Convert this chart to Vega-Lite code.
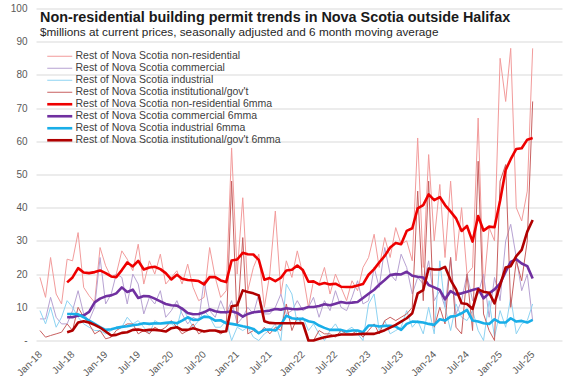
{
"$schema": "https://vega.github.io/schema/vega-lite/v6.json",
"width": 526, "height": 332,
"autosize": {"type": "none"},
"padding": {"left": 36, "top": 8.5, "right": 15, "bottom": 44.5},
"background": "white",
"config": {"view": {"stroke": null}, "font": "Liberation Sans"},
"title": {"text": "Non-residential building permit trends in Nova Scotia outside Halifax", "subtitle": "$millions at current prices, seasonally adjusted and 6 month moving average", "anchor": "start", "frame": "group", "orient": "top", "font": "Liberation Sans", "fontSize": 14.4, "fontWeight": "bold", "color": "#1a1a1a", "subtitleFont": "Liberation Sans", "subtitleFontSize": 11.75, "subtitleColor": "#262626", "subtitlePadding": 1, "offset": -36, "dx": 4},
"data": {"values": [
{"d":"2018-01","nr":19,"com":6.5,"ind":9,"inst":3},
{"d":"2018-02","nr":13,"com":6.5,"ind":5,"inst":1},
{"d":"2018-03","nr":25,"com":13,"ind":10,"inst":1.5},
{"d":"2018-04","nr":14,"com":7,"ind":4,"inst":2},
{"d":"2018-05","nr":11,"com":5,"ind":7,"inst":2.5},
{"d":"2018-06","nr":24.5,"com":5,"ind":12,"inst":5,"nr6":17.5,"com6":7.0,"ind6":8.0,"inst6":2.5},
{"d":"2018-07","nr":24,"com":9,"ind":10,"inst":3,"nr6":19,"com6":7.0,"ind6":8.0,"inst6":3.0},
{"d":"2018-08","nr":32.5,"com":15,"ind":7,"inst":10,"nr6":21.8,"com6":7.5,"ind6":7.9,"inst6":5.4},
{"d":"2018-09","nr":16,"com":8,"ind":5,"inst":7,"nr6":20.5,"com6":7.6,"ind6":7.0,"inst6":5.8},
{"d":"2018-10","nr":13.5,"com":6,"ind":4,"inst":5,"nr6":20.3,"com6":8.6,"ind6":6.0,"inst6":5.4},
{"d":"2018-11","nr":11.5,"com":10,"ind":3,"inst":2,"nr6":20.6,"com6":11.5,"ind6":5.0,"inst6":4.7},
{"d":"2018-12","nr":28,"com":25,"ind":3,"inst":3,"nr6":21.1,"com6":12.6,"ind6":4.0,"inst6":3.9},
{"d":"2019-01","nr":22.5,"com":11,"ind":2,"inst":0.5,"nr6":20.3,"com6":13.3,"ind6":3.2,"inst6":2.7},
{"d":"2019-02","nr":19,"com":14,"ind":3,"inst":1,"nr6":19.3,"com6":13.6,"ind6":3.4,"inst6":1.5},
{"d":"2019-03","nr":20,"com":20,"ind":4,"inst":3,"nr6":19.1,"com6":14.2,"ind6":3.8,"inst6":1.7},
{"d":"2019-04","nr":27,"com":19,"ind":4,"inst":4,"nr6":21.2,"com6":16.0,"ind6":4.1,"inst6":2.3},
{"d":"2019-05","nr":24.5,"com":11,"ind":7,"inst":5,"nr6":23.5,"com6":14.6,"ind6":4.3,"inst6":2.5},
{"d":"2019-06","nr":21,"com":20,"ind":5,"inst":5,"nr6":22.3,"com6":15.3,"ind6":4.6,"inst6":3.2},
{"d":"2019-07","nr":29,"com":17,"ind":6,"inst":2,"nr6":24.0,"com6":12.8,"ind6":4.8,"inst6":3.3},
{"d":"2019-08","nr":17,"com":8,"ind":4,"inst":3,"nr6":21.4,"com6":13.4,"ind6":5.2,"inst6":3.0},
{"d":"2019-09","nr":24,"com":13,"ind":2,"inst":2,"nr6":22.0,"com6":13.3,"ind6":5.0,"inst6":3.2},
{"d":"2019-10","nr":20,"com":11,"ind":6,"inst":4,"nr6":22.2,"com6":12.6,"ind6":5.2,"inst6":3.2},
{"d":"2019-11","nr":26,"com":15,"ind":5,"inst":3,"nr6":21.5,"com6":11.8,"ind6":5.1,"inst6":3.0},
{"d":"2019-12","nr":17,"com":7,"ind":5,"inst":4,"nr6":20.3,"com6":11.0,"ind6":5.3,"inst6":2.7},
{"d":"2020-01","nr":19,"com":9,"ind":5,"inst":6,"nr6":18.4,"com6":10.6,"ind6":5.5,"inst6":3.7},
{"d":"2020-02","nr":21,"com":12,"ind":4,"inst":4,"nr6":19.8,"com6":10.5,"ind6":5.2,"inst6":4.0},
{"d":"2020-03","nr":17,"com":8,"ind":10,"inst":2,"nr6":18.6,"com6":9.6,"ind6":6.0,"inst6":3.2},
{"d":"2020-04","nr":23,"com":5,"ind":7,"inst":3,"nr6":18.2,"com6":8.3,"ind6":7.0,"inst6":3.2},
{"d":"2020-05","nr":16,"com":7,"ind":4,"inst":5,"nr6":18.1,"com6":7.9,"ind6":6.2,"inst6":3.7},
{"d":"2020-06","nr":12,"com":6,"ind":6,"inst":2,"nr6":17.9,"com6":8.0,"ind6":6.3,"inst6":3.2},
{"d":"2020-07","nr":13,"com":18,"ind":9,"inst":3,"nr6":16.9,"com6":8.5,"ind6":7.2,"inst6":2.7},
{"d":"2020-08","nr":28,"com":9,"ind":7,"inst":3,"nr6":19.1,"com6":9.4,"ind6":7.0,"inst6":3.0},
{"d":"2020-09","nr":19,"com":7,"ind":4,"inst":3,"nr6":19.1,"com6":8.8,"ind6":6.0,"inst6":3.0},
{"d":"2020-10","nr":13,"com":12,"ind":4,"inst":2,"nr6":18.1,"com6":8.5,"ind6":6.1,"inst6":2.6},
{"d":"2020-11","nr":15,"com":8,"ind":6,"inst":3,"nr6":17.6,"com6":8.5,"ind6":5.2,"inst6":2.8},
{"d":"2020-12","nr":58,"com":12,"ind":0,"inst":48,"nr6":24.1,"com6":8.8,"ind6":5.0,"inst6":10.3},
{"d":"2021-01","nr":20,"com":5,"ind":4,"inst":5,"nr6":24.4,"com6":8.3,"ind6":4.7,"inst6":10.6},
{"d":"2021-02","nr":43,"com":7,"ind":3,"inst":31,"nr6":26.4,"com6":7.2,"ind6":4.3,"inst6":15.1},
{"d":"2021-03","nr":15,"com":10,"ind":4,"inst":2,"nr6":26.0,"com6":8.0,"ind6":4.0,"inst6":14.6},
{"d":"2021-04","nr":22,"com":8,"ind":1,"inst":3,"nr6":25.9,"com6":8.5,"ind6":3.5,"inst6":14.2},
{"d":"2021-05","nr":26,"com":14,"ind":0,"inst":2,"nr6":24.3,"com6":8.7,"ind6":2.2,"inst6":13.6},
{"d":"2021-06","nr":10,"com":8,"ind":2,"inst":4,"nr6":18.3,"com6":8.8,"ind6":3.2,"inst6":5.8},
{"d":"2021-07","nr":20,"com":8,"ind":3,"inst":2,"nr6":18.8,"com6":9.0,"ind6":3.3,"inst6":5.3},
{"d":"2021-08","nr":39,"com":10,"ind":5,"inst":4,"nr6":17.9,"com6":9.5,"ind6":3.0,"inst6":5.2},
{"d":"2021-09","nr":14,"com":14,"ind":0,"inst":3,"nr6":18.9,"com6":9.3,"ind6":4.8,"inst6":5.2},
{"d":"2021-10","nr":24,"com":8,"ind":17,"inst":11,"nr6":21.1,"com6":9.7,"ind6":7.5,"inst6":5.2},
{"d":"2021-11","nr":19,"com":9,"ind":14,"inst":3,"nr6":21.3,"com6":9.5,"ind6":6.7,"inst6":5.2},
{"d":"2021-12","nr":27,"com":12,"ind":5,"inst":7,"nr6":22.6,"com6":9.4,"ind6":6.5,"inst6":5.2},
{"d":"2022-01","nr":20,"com":9,"ind":7,"inst":5,"nr6":21.2,"com6":9.6,"ind6":6.5,"inst6":5.2},
{"d":"2022-02","nr":10,"com":10,"ind":3,"inst":0,"nr6":17.7,"com6":10.1,"ind6":5.8,"inst6":0.0},
{"d":"2022-03","nr":18,"com":13,"ind":5,"inst":0,"nr6":17.8,"com6":10.1,"ind6":5.5,"inst6":0.0},
{"d":"2022-04","nr":17,"com":7,"ind":2,"inst":3,"nr6":16.9,"com6":10.4,"ind6":4.5,"inst6":0.5},
{"d":"2022-05","nr":22,"com":12,"ind":0,"inst":2,"nr6":17.3,"com6":10.9,"ind6":3.8,"inst6":1.0},
{"d":"2022-06","nr":14,"com":9,"ind":3,"inst":2,"nr6":16.9,"com6":10.6,"ind6":3.2,"inst6":1.3},
{"d":"2022-07","nr":20,"com":15,"ind":5,"inst":1,"nr6":17.1,"com6":11.1,"ind6":3.2,"inst6":1.5},
{"d":"2022-08","nr":16,"com":10,"ind":2,"inst":3,"nr6":16.2,"com6":11.6,"ind6":3.2,"inst6":1.8},
{"d":"2022-09","nr":12,"com":9,"ind":3,"inst":2,"nr6":16.1,"com6":11.3,"ind6":2.7,"inst6":1.8},
{"d":"2022-10","nr":18,"com":13,"ind":4,"inst":2,"nr6":16.1,"com6":11.4,"ind6":3.0,"inst6":1.8},
{"d":"2022-11","nr":15,"com":18,"ind":2,"inst":3,"nr6":16.6,"com6":11.6,"ind6":3.0,"inst6":1.9},
{"d":"2022-12","nr":22,"com":11,"ind":0,"inst":1,"nr6":17.0,"com6":12.8,"ind6":2.5,"inst6":2.0},
{"d":"2023-01","nr":25,"com":12,"ind":11,"inst":3,"nr6":19.8,"com6":14.1,"ind6":4.5,"inst6":2.0},
{"d":"2023-02","nr":32,"com":22,"ind":14,"inst":5,"nr6":21.5,"com6":15.3,"ind6":4.5,"inst6":2.0},
{"d":"2023-03","nr":22,"com":16,"ind":3,"inst":2,"nr6":23.5,"com6":16.8,"ind6":4.2,"inst6":2.5},
{"d":"2023-04","nr":31,"com":28,"ind":6,"inst":6,"nr6":25.5,"com6":18.2,"ind6":4.4,"inst6":3.1},
{"d":"2023-05","nr":25,"com":20,"ind":2,"inst":7,"nr6":28.0,"com6":19.7,"ind6":4.4,"inst6":3.9},
{"d":"2023-06","nr":34,"com":18,"ind":3,"inst":6,"nr6":29.4,"com6":20.0,"ind6":4.2,"inst6":4.7},
{"d":"2023-07","nr":29,"com":26,"ind":4,"inst":7,"nr6":29.0,"com6":19.9,"ind6":3.2,"inst6":5.7},
{"d":"2023-08","nr":30,"com":22,"ind":9,"inst":8,"nr6":33.0,"com6":20.7,"ind6":5.0,"inst6":6.7},
{"d":"2023-09","nr":24,"com":14,"ind":4,"inst":10,"nr6":33.8,"com6":19.5,"ind6":5.7,"inst6":8.2},
{"d":"2023-10","nr":61,"com":19,"ind":6,"inst":45,"nr6":39.8,"com6":19.2,"ind6":5.6,"inst6":14.2},
{"d":"2023-11","nr":22,"com":17,"ind":2,"inst":12,"nr6":40.8,"com6":19.0,"ind6":5.4,"inst6":15.2},
{"d":"2023-12","nr":56,"com":24,"ind":10,"inst":48,"nr6":44.0,"com6":16.7,"ind6":5.0,"inst6":21.7},
{"d":"2024-01","nr":30,"com":12,"ind":2,"inst":4,"nr6":42.3,"com6":16.0,"ind6":4.7,"inst6":21.4},
{"d":"2024-02","nr":47,"com":15,"ind":24,"inst":10,"nr6":43.2,"com6":15.2,"ind6":6.4,"inst6":21.4},
{"d":"2024-03","nr":25,"com":10,"ind":10,"inst":5,"nr6":40.8,"com6":12.4,"ind6":6.0,"inst6":22.2},
{"d":"2024-04","nr":48,"com":25,"ind":3,"inst":25,"nr6":38.8,"com6":14.9,"ind6":7.2,"inst6":18.2},
{"d":"2024-05","nr":24,"com":8,"ind":11,"inst":4,"nr6":36.8,"com6":13.9,"ind6":7.4,"inst6":15.4},
{"d":"2024-06","nr":40,"com":12,"ind":7,"inst":2,"nr6":33.0,"com6":14.2,"ind6":8.2,"inst6":11.2},
{"d":"2024-07","nr":20,"com":20,"ind":6,"inst":20,"nr6":34.5,"com6":14.7,"ind6":9.2,"inst6":11.0},
{"d":"2024-08","nr":22,"com":12,"ind":9,"inst":3,"nr6":29.8,"com6":15.2,"ind6":6.0,"inst6":9.5},
{"d":"2024-09","nr":67,"com":14,"ind":3,"inst":54,"nr6":37.5,"com6":15.7,"ind6":5.7,"inst6":15.4},
{"d":"2024-10","nr":15,"com":20,"ind":0,"inst":8,"nr6":33.1,"com6":12.7,"ind6":5.2,"inst6":14.7},
{"d":"2024-11","nr":34,"com":7,"ind":12,"inst":3,"nr6":34.3,"com6":14.2,"ind6":5.0,"inst6":14.4},
{"d":"2024-12","nr":30,"com":19,"ind":1,"inst":0,"nr6":34.1,"com6":15.4,"ind6":6.4,"inst6":11.2},
{"d":"2025-01","nr":85,"com":12,"ind":9,"inst":48,"nr6":42.1,"com6":17.2,"ind6":5.4,"inst6":16.7},
{"d":"2025-02","nr":72,"com":30,"ind":4,"inst":53,"nr6":51.4,"com6":20.7,"ind6":5.4,"inst6":22.0},
{"d":"2025-03","nr":88,"com":35,"ind":13,"inst":10,"nr6":54.6,"com6":23.7,"ind6":6.7,"inst6":22.4},
{"d":"2025-04","nr":40,"com":25,"ind":2,"inst":24,"nr6":57.7,"com6":24.5,"ind6":5.7,"inst6":25.4},
{"d":"2025-05","nr":36,"com":15,"ind":5,"inst":18,"nr6":57.9,"com6":23.2,"ind6":5.9,"inst6":27.3},
{"d":"2025-06","nr":45,"com":20,"ind":6,"inst":30,"nr6":60.5,"com6":22.4,"ind6":5.4,"inst6":32.8},
{"d":"2025-07","nr":88,"com":6,"ind":11,"inst":72,"nr6":61.0,"com6":18.7,"ind6":6.2,"inst6":36.3}
]},
"transform": [{"fold": ["nr","com","ind","inst","nr6","com6","ind6","inst6"], "as": ["series","value"]}],
"encoding": {
  "x": {"field": "d", "type": "temporal",
    "scale": {"type": "utc", "domain": [{"year": 2017, "month": 12, "date": 10, "utc": true}, {"year": 2025, "month": 12, "date": 11, "utc": true}]},
    "axis": {"title": null, "format": "%b-%y", "labelAngle": -45, "labelAlign": "right", "labelBaseline": "middle", "labelPadding": 12, "ticks": false, "domain": false, "grid": false, "labelFontSize": 10, "labelColor": "#595959", "labelOverlap": false, "labelFlush": false, "labelBound": false,
      "values": [{"year":2018,"month":1,"date":1,"utc":true},{"year":2018,"month":7,"date":1,"utc":true},{"year":2019,"month":1,"date":1,"utc":true},{"year":2019,"month":7,"date":1,"utc":true},{"year":2020,"month":1,"date":1,"utc":true},{"year":2020,"month":7,"date":1,"utc":true},{"year":2021,"month":1,"date":1,"utc":true},{"year":2021,"month":7,"date":1,"utc":true},{"year":2022,"month":1,"date":1,"utc":true},{"year":2022,"month":7,"date":1,"utc":true},{"year":2023,"month":1,"date":1,"utc":true},{"year":2023,"month":7,"date":1,"utc":true},{"year":2024,"month":1,"date":1,"utc":true},{"year":2024,"month":7,"date":1,"utc":true},{"year":2025,"month":1,"date":1,"utc":true},{"year":2025,"month":7,"date":1,"utc":true}]}},
  "y": {"field": "value", "type": "quantitative", "scale": {"domain": [0, 100], "nice": false},
    "axis": {"title": null, "values": [0,10,20,30,40,50,60,70,80,90,100], "grid": true, "gridColor": "#D9D9D9", "domain": false, "ticks": false, "labelPadding": 9, "labelFontSize": 10, "labelColor": "#595959", "labelOverlap": false, "labelFlush": false, "labelBound": false, "labelExpr": "datum.value == 0 ? '-   ' : datum.label"}},
  "color": {"field": "series", "type": "nominal",
    "scale": {"domain": ["nr","com","ind","inst","nr6","com6","ind6","inst6"], "range": ["#F29B9B","#B7A2D2","#8ED3F2","#C86060","#EE0000","#7030A0","#19AEE8","#B00000"]},
    "legend": {"title": null, "orient": "none", "legendX": 18.5, "legendY": 42.5, "padding": 0, "symbolType": "M-2.5,0H2.5", "symbolSize": 100, "labelOffset": 10.5, "rowPadding": 1, "labelFontSize": 10.5, "labelColor": "#404040", "labelLimit": 400,
      "encode": {"symbols": {"update": {"strokeWidth": {"signal": "indexof(['nr6','com6','ind6','inst6'], datum.value) >= 0 ? 2.6 : 1"}}}},
      "labelExpr": "datum.label == 'nr' ? 'Rest of Nova Scotia non-residential' : datum.label == 'com' ? 'Rest of Nova Scotia commercial' : datum.label == 'ind' ? 'Rest of Nova Scotia industrial' : datum.label == 'inst' ? \"Rest of Nova Scotia institutional/gov't\" : datum.label == 'nr6' ? 'Rest of Nova Scotia non-residential 6mma' : datum.label == 'com6' ? 'Rest of Nova Scotia commercial 6mma' : datum.label == 'ind6' ? 'Rest of Nova Scotia industrial 6mma' : \"Rest of Nova Scotia institutional/gov't 6mma\""}}
},
"layer": [
  {"transform": [{"filter": {"field": "series", "oneOf": ["nr","com","ind","inst"]}}], "mark": {"type": "line", "strokeJoin": "round", "strokeWidth": 1}},
  {"transform": [{"filter": {"field": "series", "oneOf": ["nr6","com6","ind6","inst6"]}}], "mark": {"type": "line", "strokeJoin": "round", "strokeWidth": 2.6}}
]
}
